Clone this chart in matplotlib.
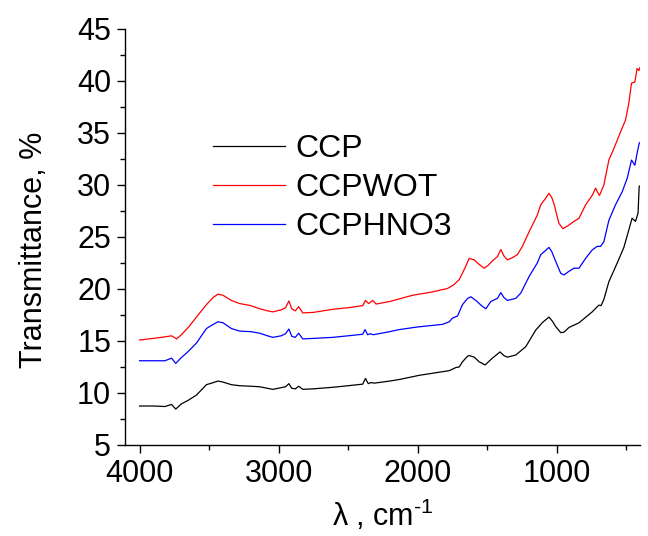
import matplotlib
matplotlib.use("Agg")
import matplotlib.pyplot as plt
from matplotlib.ticker import MultipleLocator

plt.rcParams['font.family'] = ['Liberation Sans', 'DejaVu Sans']
plt.rcParams['mathtext.fontset'] = 'custom'
plt.rcParams['mathtext.rm'] = 'Liberation Sans'
plt.rcParams['mathtext.it'] = 'Liberation Sans:italic'

# FTIR transmittance spectra (wavenumber in cm^-1, transmittance in %)
ccp_x = [4000, 3900, 3818, 3770, 3740, 3700, 3650, 3591, 3519, 3470, 3436, 3400,
         3340, 3280, 3200, 3136, 3080, 3041, 2969, 2950, 2926, 2905, 2880, 2856,
         2826, 2750, 2610, 2500, 2395, 2375, 2355, 2335, 2310, 2200, 2131, 1988,
         1820, 1772, 1724, 1701, 1677, 1640, 1629, 1593, 1557, 1514, 1462, 1407,
         1380, 1354, 1294, 1222, 1150, 1100, 1055, 1030, 1007, 970, 947, 911,
         839, 744, 696, 680, 660, 624, 564, 516, 480, 457, 432, 414, 406, 402]
ccp_y = [8.75, 8.75, 8.7, 8.9, 8.45, 8.95, 9.3, 9.8, 10.8, 11.0, 11.15, 11.05,
         10.8, 10.7, 10.65, 10.6, 10.45, 10.35, 10.55, 10.6, 10.9, 10.45, 10.4, 10.65,
         10.35, 10.4, 10.55, 10.7, 10.85, 11.4, 10.9, 11.0, 10.95, 11.15, 11.3, 11.7,
         12.05, 12.15, 12.45, 12.5, 13.0, 13.55, 13.6, 13.45, 13.0, 12.7, 13.35, 13.95,
         13.6, 13.45, 13.65, 14.45, 16.05, 16.8, 17.3, 16.9, 16.4, 15.8, 15.85, 16.3,
         16.75, 17.8, 18.45, 18.4, 19.0, 20.7, 22.5, 24.0, 25.7, 26.8, 26.5, 27.3, 29.85, 29.9]

wot_x = [4000, 3900, 3818, 3770, 3734, 3700, 3650, 3591, 3519, 3470, 3436, 3400,
         3340, 3280, 3200, 3136, 3080, 3041, 2981, 2950, 2926, 2905, 2880, 2856,
         2826, 2750, 2610, 2500, 2395, 2375, 2352, 2323, 2299, 2200, 2131, 2036,
         1900, 1785, 1740, 1701, 1660, 1629, 1593, 1560, 1521, 1490, 1462, 1426,
         1401, 1380, 1354, 1320, 1282, 1246, 1198, 1139, 1114, 1080, 1055, 1035,
         1019, 983, 954, 911, 875, 839, 791, 744, 719, 705, 691, 660, 624, 588,
         540, 504, 480, 461, 437, 421, 408, 400]
wot_y = [15.1, 15.25, 15.4, 15.5, 15.2, 15.6, 16.3, 17.3, 18.5, 19.2, 19.5, 19.4,
         18.9, 18.6, 18.4, 18.1, 17.9, 17.8, 18.0, 18.2, 18.85, 18.1, 17.9, 18.3,
         17.7, 17.75, 18.05, 18.2, 18.4, 18.9, 18.6, 18.9, 18.55, 18.8, 19.05, 19.4,
         19.7, 20.05, 20.4, 20.9, 22.0, 22.95, 22.8, 22.4, 22.0, 22.3, 22.7, 23.1,
         23.8, 23.2, 22.8, 23.0, 23.3, 24.1, 25.5, 27.1, 28.1, 28.7, 29.2, 28.8,
         28.2, 26.3, 25.8, 26.15, 26.5, 26.8, 28.1, 29.0, 29.7, 29.3, 29.0, 30.0, 32.4, 33.5,
         35.1, 36.25, 37.9, 39.8, 39.9, 41.2, 41.0, 41.3]

hno3_x = [4000, 3900, 3818, 3770, 3740, 3700, 3650, 3591, 3519, 3470, 3436, 3400,
          3340, 3280, 3200, 3136, 3080, 3041, 2981, 2950, 2926, 2905, 2880, 2856,
          2826, 2750, 2610, 2500, 2395, 2378, 2360, 2340, 2320, 2200, 2131, 2000,
          1892, 1820, 1772, 1749, 1713, 1677, 1640, 1617, 1581, 1540, 1509, 1473,
          1426, 1401, 1380, 1354, 1294, 1258, 1198, 1139, 1114, 1080, 1055, 1035,
          1011, 970, 947, 911, 875, 839, 791, 744, 708, 683, 660, 624, 576, 528,
          492, 461, 437, 421, 406, 400]
hno3_y = [13.1, 13.1, 13.1, 13.35, 12.85, 13.4, 14.0, 14.8, 16.2, 16.6, 16.85, 16.75,
          16.2, 15.95, 15.9, 15.75, 15.5, 15.35, 15.5, 15.7, 16.15, 15.45, 15.35, 15.75,
          15.2, 15.25, 15.35, 15.5, 15.65, 16.1, 15.6, 15.7, 15.6, 15.9, 16.1, 16.35,
          16.5, 16.6, 16.85, 17.2, 17.4, 18.5, 19.1, 19.25, 18.9, 18.4, 18.1, 18.8,
          19.1, 19.65, 19.2, 18.9, 19.1, 19.6, 21.2, 22.5, 23.3, 23.7, 24.0, 23.6,
          22.8, 21.5, 21.35, 21.7, 22.0, 22.0, 22.95, 23.75, 24.1, 24.1, 24.55, 26.6, 28.1, 29.35,
          30.65, 32.4, 31.9, 33.05, 34.0, 34.1]

labels = ['CCP', 'CCPWOT', 'CCPHNO3']
colors = ['black', 'red', 'blue']

fig = plt.figure(figsize=(6.48, 5.36), dpi=100)
ax = fig.add_axes([125/648, 1 - 445/536, 515/648, 416/536])

for xs, ys, lab, col in zip([ccp_x, wot_x, hno3_x], [ccp_y, wot_y, hno3_y], labels, colors):
    ax.plot(xs, ys, color=col, lw=0.9, label=lab)

ax.set_xlim(4105, 400)
ax.set_ylim(5, 45)
ax.xaxis.set_major_locator(MultipleLocator(1000))
ax.xaxis.set_minor_locator(MultipleLocator(500))
ax.yaxis.set_major_locator(MultipleLocator(5))
ax.yaxis.set_minor_locator(MultipleLocator(2.5))

for side in ('top', 'right'):
    ax.spines[side].set_visible(False)
for side in ('left', 'bottom'):
    ax.spines[side].set_linewidth(1.0)

ax.tick_params(which='major', direction='out', length=6, width=1.0, labelsize=22, pad=4)
ax.tick_params(which='minor', direction='out', length=3.5, width=1.0)

ax.set_ylabel('Transmittance, %', fontsize=22, labelpad=20)
ax.yaxis.label.set_y(0.469)
ax.set_xlabel('λ , cm$^{\\text{-1}}$', fontsize=22, labelpad=6)

ax.legend(loc='upper left', bbox_to_anchor=(0.171, 0.747), frameon=False,
          fontsize=23, handlelength=2.25, handletextpad=0.33, labelspacing=0.28,
          borderpad=0, borderaxespad=0)

fig.savefig('out.png', dpi=100)
